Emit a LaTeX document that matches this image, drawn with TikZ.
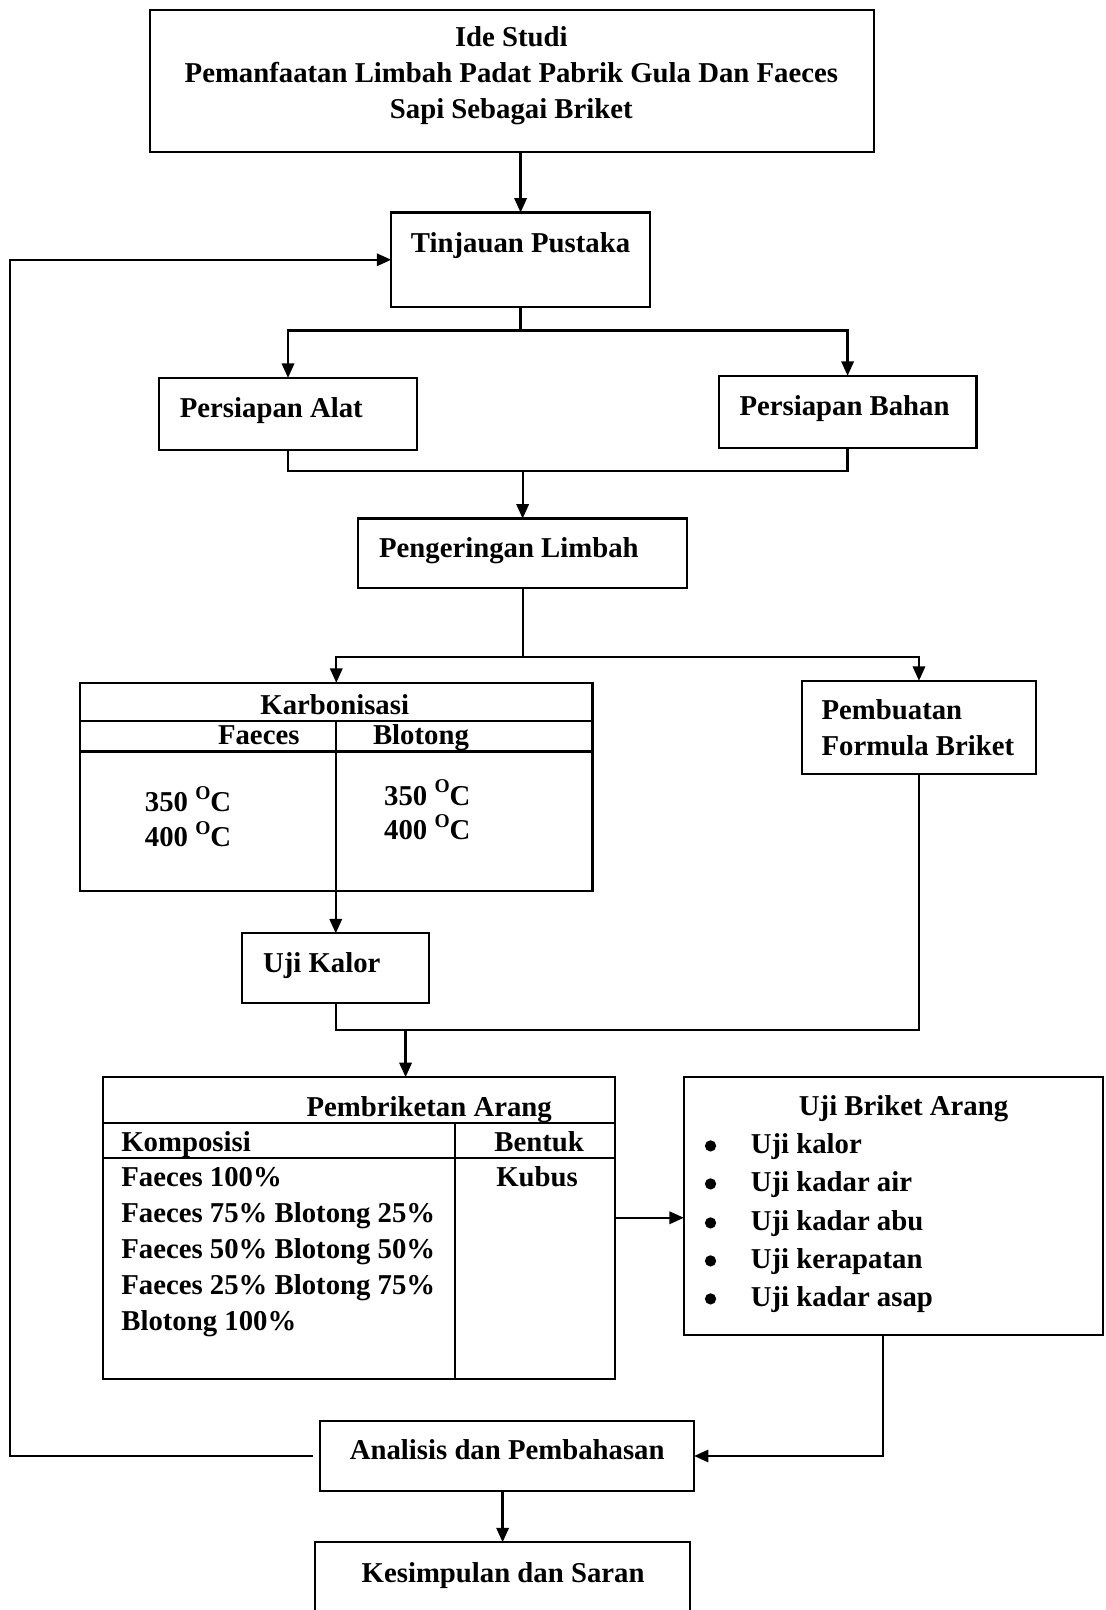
\documentclass[tikz,border=0pt]{standalone}
\usepackage{fontspec}
\setmainfont{Liberation Serif}
\usetikzlibrary{arrows.meta,calc}
\newcommand\degO{\raisebox{0.42em}{\fontsize{19}{19}\selectfont O}C}
\begin{document}
\begin{tikzpicture}[x=1pt,y=-1pt,
  box/.style={draw,line width=2.2pt,inner sep=0pt,outer sep=0pt},
  conn/.style={line width=2.2pt},
  arr/.style={conn,-{Triangle[length=14pt,width=12pt]}},
  txt/.style={inner sep=0pt,font=\fontsize{28}{35}\selectfont\bfseries},
  bul/.style={fill=black}]
\useasboundingbox (0,0) rectangle (1077,1568);
\clip (0,0) rectangle (1077,1568);
% boxes
\node[box,minimum width=705pt,minimum height=138pt] (ide) at (498.5,79) {};
\node[box,minimum width=252pt,minimum height=92pt] (tp) at (507,253) {};
\node[box,minimum width=251pt,minimum height=70pt] (alat) at (280.5,403) {};
\node[box,minimum width=251pt,minimum height=70pt] (bahan) at (825.5,401) {};
\node[box,minimum width=320pt,minimum height=68pt] (peng) at (509,539) {};
\node[box,minimum width=499pt,minimum height=203pt] (karb) at (327.5,766.5) {};
\node[box,minimum width=228pt,minimum height=91pt] (pemb) at (895,708.5) {};
\node[box,minimum width=182pt,minimum height=68pt] (kalor) at (327,943) {};
\node[box,minimum width=499pt,minimum height=294pt] (brik) at (349.5,1196) {};
\node[box,minimum width=408pt,minimum height=251pt] (uji) at (870,1174.5) {};
\node[box,minimum width=364pt,minimum height=68pt] (anal) at (494,1418) {};
\node[box,minimum width=365pt,minimum height=88pt] (kes) at (489.5,1546) {};
% table rules
\draw[conn] (karb.west |- 0,702) -- (karb.east |- 0,702);
\draw[conn] (karb.west |- 0,732) -- (karb.east |- 0,732);
\draw[conn] (brik.west |- 0,1094) -- (brik.east |- 0,1094);
\draw[conn] (brik.west |- 0,1128) -- (brik.east |- 0,1128);
\draw[conn] (443,1094) -- (443,1343);
% texts
\node[txt,align=center] (ideT) at (498,74) {Ide Studi\\Pemanfaatan Limbah Padat Pabrik Gula Dan Faeces\\Sapi Sebagai Briket};
\node[txt,anchor=base] (tpT) at (507,246) {Tinjauan Pustaka};
\node[txt,anchor=base west] (alatT) at (175,407) {Persiapan Alat};
\node[txt,anchor=base west] (bahanT) at (720,405) {Persiapan Bahan};
\node[txt,anchor=base west] (pengT) at (369,543) {Pengeringan Limbah};
\node[txt,anchor=base] (karbT) at (326,696) {Karbonisasi};
\node[txt,anchor=base] (faT) at (252,725) {Faeces};
\node[txt,anchor=base] (blT) at (410,725) {Blotong};
\node[txt,anchor=base west] (f350) at (141,790) {350 \degO};
\node[txt,anchor=base west] (f400) at (141,824) {400 \degO};
\node[txt,anchor=base west] (b350) at (374,784) {350 \degO};
\node[txt,anchor=base west] (b400) at (374,818) {400 \degO};
\node[txt,anchor=base west] (pembT1) at (800,701) {Pembuatan};
\node[txt,anchor=base west] (pembT2) at (800,736) {Formula Briket};
\node[txt,anchor=base west] (kalorT) at (256,947) {Uji Kalor};
\node[txt,anchor=base] (brikT) at (418,1087) {Pembriketan Arang};
\node[txt,anchor=base west] (komT) at (118,1121) {Komposisi};
\node[txt,anchor=base] (benT) at (525,1121) {Bentuk};
\node[txt,anchor=base west] (c1) at (118,1156) {Faeces 100\%};
\node[txt,anchor=base west] (c2) at (118,1191) {Faeces 75\% Blotong 25\%};
\node[txt,anchor=base west] (c3) at (118,1226) {Faeces 50\% Blotong 50\%};
\node[txt,anchor=base west] (c4) at (118,1261) {Faeces 25\% Blotong 75\%};
\node[txt,anchor=base west] (c5) at (118,1296) {Blotong 100\%};
\node[txt,anchor=base] (kubT) at (523,1156) {Kubus};
\node[txt,anchor=base] (ujiT) at (880,1086) {Uji Briket Arang};
\node[txt,anchor=base west] (u1) at (731,1123) {Uji kalor};
\node[txt,anchor=base west] (u2) at (731,1160) {Uji kadar air};
\node[txt,anchor=base west] (u3) at (731,1198) {Uji kadar abu};
\node[txt,anchor=base west] (u4) at (731,1235) {Uji kerapatan};
\node[txt,anchor=base west] (u5) at (731,1272) {Uji kadar asap};
\foreach \yy in {1116,1153,1191,1228,1265} \fill[bul] (692,\yy) circle (5.5pt);
\node[txt,anchor=base] (analT) at (494,1421) {Analisis dan Pembahasan};
\node[txt,anchor=base] (kesT) at (490,1541) {Kesimpulan dan Saran};
% connectors
\coordinate (s1) at (507,322);
\coordinate (m1) at (509,459);
\coordinate (s2) at (509,640);
\coordinate (kdiv) at (327,702);
\coordinate (m2) at (395,1003);
\coordinate (h1) at (0,1186);
\coordinate (v1) at (860,0);
\coordinate (fb) at (10,800);
\draw[arr] (ide.south -| tp.north) -- (tp.north);
\draw[conn] (tp.south) -- (s1);
\draw[arr] (s1) -| (alat.north);
\draw[arr] (s1) -| (bahan.north);
\draw[conn] (alat.south) |- (m1) -| (bahan.south);
\draw[arr] (m1) -- (peng.north);
\draw[conn] (peng.south) -- (s2);
\draw[arr] (s2) -| (karb.north);
\draw[arr] (s2) -| (pemb.north);
\draw[arr] (kdiv) -- (kalor.north);
\draw[conn] (kalor.south) |- (pemb.south |- m2) -- (pemb.south);
\draw[arr] (m2) -- (m2 |- brik.north);
\draw[arr] (brik.east |- h1) -- (uji.west |- h1);
\draw[arr] (uji.south -| v1) |- (anal.east);
\draw[arr] ([xshift=-7pt]anal.west) -| (fb) |- (tp.west);
\draw[arr] (anal.south -| kes.north) -- (kes.north);
\end{tikzpicture}
\end{document}
